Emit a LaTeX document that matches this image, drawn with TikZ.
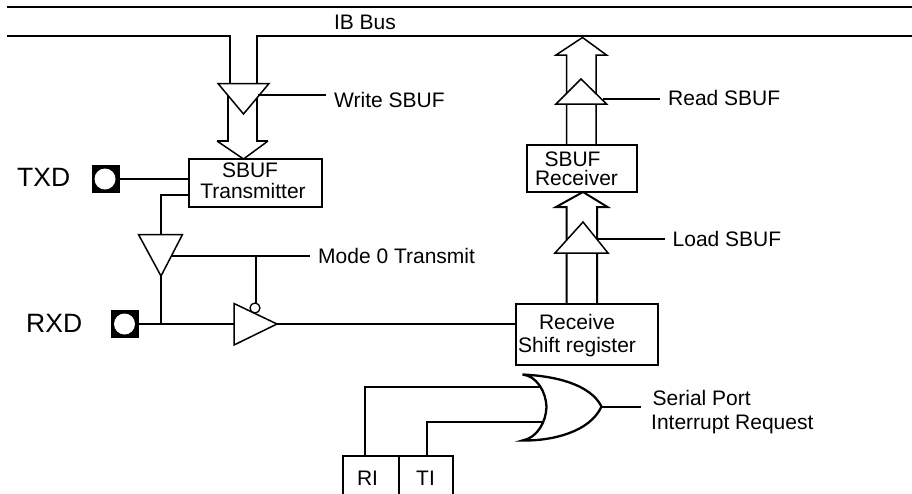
\documentclass[tikz,border=0pt]{standalone}
\usepackage{fontspec}
\setmainfont{Liberation Sans}
\tikzset{
  wire/.style={
    line width=2pt,
    color=black
  },
  gate/.style={
    line width=1.5pt,
    draw=black,
    fill=white
  },
  regbox/.style={
    rectangle,
    draw=black,
    line width=2pt,
    inner sep=0pt
  },
  pad/.style={
    rectangle,
    fill=black,
    inner sep=0pt,
    minimum size=28pt
  },
  pad hole/.style={
    circle,
    fill=white,
    inner sep=0pt,
    minimum size=21pt
  },
  bubble/.style={
    circle,
    draw=black,
    fill=white,
    line width=1.3pt,
    inner sep=0pt,
    minimum size=10pt
  },
  label/.style={
    font=\fontsize{21}{23}\selectfont,
    inner sep=0pt,
    anchor=west
  },
  boxtext/.style={
    font=\fontsize{21}{23}\selectfont,
    inner sep=0pt
  },
  pin label/.style={
    font=\fontsize{26.5}{28}\selectfont,
    inner sep=0pt,
    anchor=west
  }
}
\begin{document}
\begin{tikzpicture}[x=1pt, y=-1pt]
  \useasboundingbox (0,0) rectangle (912,493);

  %% ---- IB bus ----
  \coordinate (busL) at (7, 6.5);
  \coordinate (busR) at (912, 6.5);
  \draw[wire] (busL) -- (busR);
  \draw[wire] (7, 35.5) -- (230, 35.5) -- (230, 84);
  \draw[wire] (912, 35.5) -- (257, 35.5) -- (257, 84);
  \node[label, anchor=center] (ibbus) at (365, 22) {IB Bus};

  %% ---- registers ----
  \node[regbox, minimum width=133pt, minimum height=48pt] (sbufT) at (255.5, 183) {};
  \node[regbox, minimum width=110pt, minimum height=47pt] (sbufR) at (582, 168.5) {};
  \node[regbox, minimum width=142pt, minimum height=61pt] (shift) at (587, 334.5) {};

  \node[boxtext] (sbufTa) at (250, 170) {SBUF};
  \node[boxtext] (sbufTb) at (253, 191) {Transmitter};
  \node[boxtext] (sbufRa) at (572.5, 159) {SBUF};
  \node[boxtext] (sbufRb) at (576.5, 178) {Receiver};
  \node[boxtext] (shifta) at (577, 322) {Receive};
  \node[boxtext] (shiftb) at (577, 347) {Shift register};

  %% ---- hollow arrows ----
  % transmit side
  \draw[wire] (217, 141) -- (228, 141) -- (228, 90);
  \draw[wire] (268, 141) -- (257, 141) -- (257, 90);
  \draw[wire, line width=1.5pt] (217, 141) -- (243.5, 159) -- (268, 141);
  % receiver to bus
  \draw[wire, line width=1.5pt] (566.5, 145) -- (566.5, 55) -- (556, 55) -- (582.5, 37.5)
      -- (606.5, 55) -- (596, 55) -- (596, 145);
  % shift register to receiver
  \draw[wire] (566.5, 304) -- (566.5, 207) -- (556, 207) -- (583, 192)
      -- (607.5, 207) -- (597, 207) -- (597, 304);

  %% ---- tri-state buffers on the bus paths ----
  \draw[gate] (218, 83.5) -- (269, 83.5) -- (243.5, 114) -- cycle;
  \draw[gate] (556, 104) -- (606.5, 104) -- (581, 79) -- cycle;
  \draw[gate] (555, 253) -- (608, 253) -- (583, 222) -- cycle;

  %% ---- enable lines ----
  \coordinate (wrEn) at (258, 95);
  \coordinate (rdEn) at (602.5, 98.5);
  \coordinate (ldEn) at (597.5, 238.5);
  \node[label] (wrLabel) at (334, 100) {Write SBUF};
  \node[label] (rdLabel) at (668, 98) {Read SBUF};
  \node[label] (ldLabel) at (672.5, 239) {Load SBUF};
  \draw[wire, line width=1.2pt] (wrEn) -- (326, 95);
  \draw[wire] (rdEn) -- (660, 98.5);
  \draw[wire] (ldEn) -- (665, 238.5);

  %% ---- TXD pin ----
  \node[pad] (txd) at (106, 179) {};
  \node[pad hole] (txdHole) at (105, 179) {};
  \node[pin label] (txdLabel) at (17, 177) {TXD};
  \draw[wire] (txd.east) -- (sbufT.west |- txd.east);

  %% ---- RXD pin ----
  \node[pad] (rxd) at (125, 324) {};
  \node[pad hole] (rxdHole) at (124.5, 324) {};
  \node[pin label] (rxdLabel) at (26, 323) {RXD};

  %% ---- mode 0 buffers ----
  \coordinate (txApex) at (161, 276);
  \coordinate (rxJoin) at (161, 324);
  \coordinate (rxIn) at (234, 324);
  \coordinate (rxOut) at (277, 324);
  \coordinate (modeTap) at (256, 256);
  \draw[wire] (sbufT.west |- 0, 194.5) -- (161, 194.5) -- (161, 235);
  \draw[wire] (txApex) -- (rxJoin);
  \draw[wire] (rxd.east) -- (rxIn);
  \draw[wire] (rxOut) -- (shift.west |- rxOut);
  \draw[gate] (138.5, 234.5) -- (182.5, 234.5) -- (txApex) -- cycle;
  \draw[gate] (rxIn |- 0, 303.5) -- (rxOut) -- (rxIn |- 0, 345) -- cycle;
  \node[label] (modeLabel) at (318, 256) {Mode 0 Transmit};
  \draw[wire] (172, 256) -- (310, 256);
  \draw[wire] (modeTap) -- (256, 304);
  \node[bubble] (modeBubble) at (255, 308) {};

  %% ---- RI and TI flags ----
  \node[regbox, minimum width=55.5pt, minimum height=50pt] (ri) at (371, 480.5) {};
  \node[regbox, minimum width=54.5pt, minimum height=50pt] (ti) at (426, 480.5) {};
  \node[boxtext] (riText) at (367.5, 478) {RI};
  \node[boxtext] (tiText) at (425.5, 478) {TI};
  \draw[wire] (365, 455.5) -- (365, 386.5) -- (542, 386.5);
  \draw[wire] (426.5, 455.5) -- (426.5, 421.5) -- (546, 421.5);

  %% ---- OR gate ----
  \draw[wire, line width=2.3pt, fill=white] (522.5, 374.5)
      .. controls (537, 376) and (546, 392) .. (546.5, 407)
      .. controls (546, 422) and (537, 438) .. (522.5, 440.5)
      .. controls (552, 441) and (590, 432) .. (601.5, 406.5)
      .. controls (590, 384) and (555, 376) .. (522.5, 374.5) -- cycle;
  \coordinate (orOut) at (601.5, 406.5);
  \draw[wire] (orOut) -- (640.5, 406.5);
  \node[label] (irqa) at (652.5, 398) {Serial Port};
  \node[label] (irqb) at (651, 424) {Interrupt Request};
\end{tikzpicture}
\end{document}
